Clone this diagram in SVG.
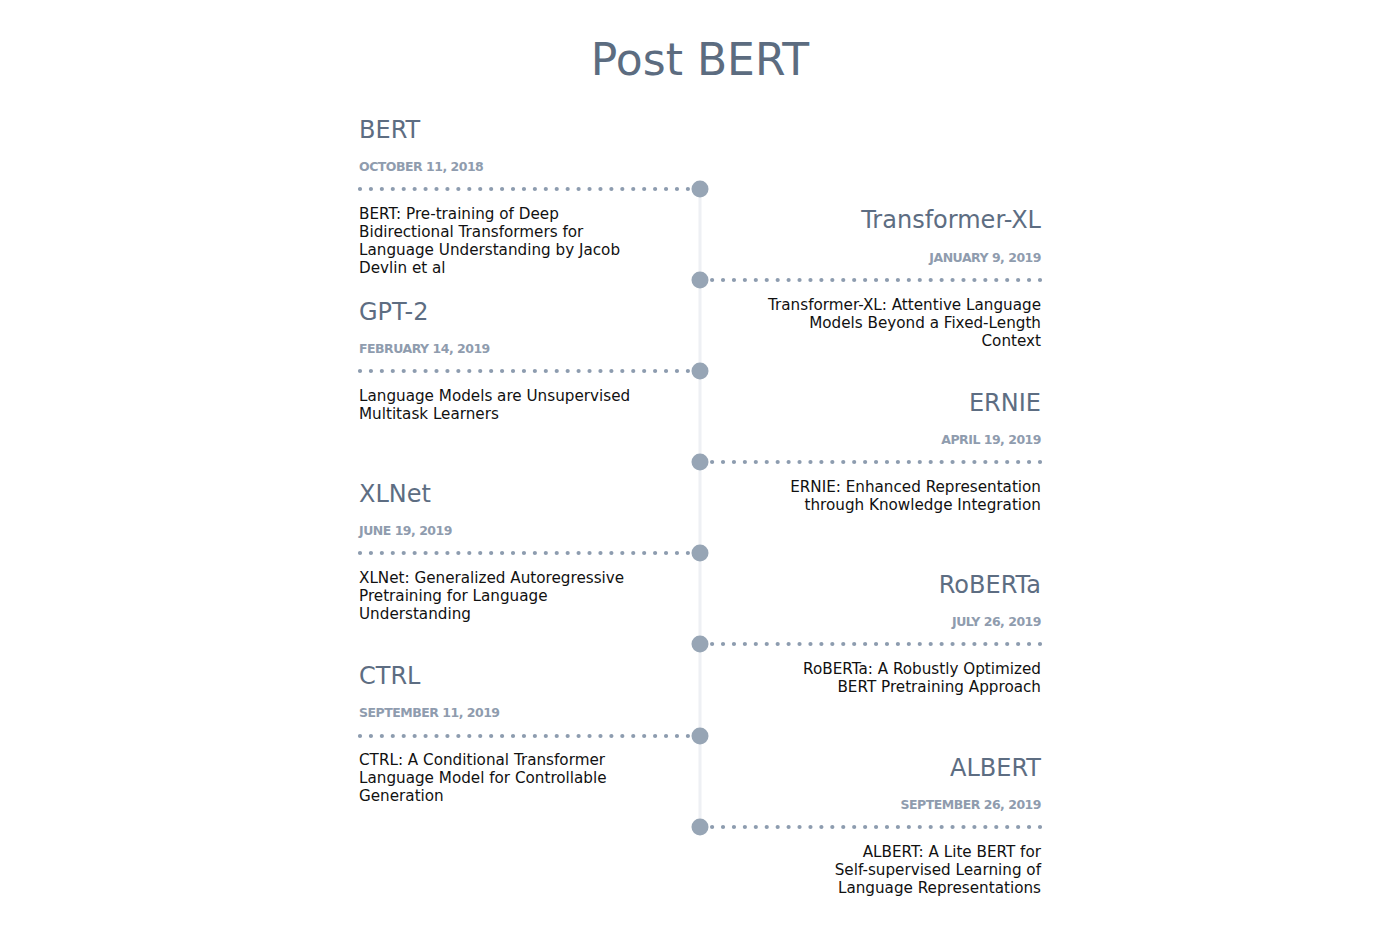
<svg xmlns="http://www.w3.org/2000/svg" width="1400" height="932" viewBox="0 0 1400 932">
<style>
.title{font-family:"DejaVu Sans","Liberation Sans",sans-serif;font-size:44px;fill:#5c6c80}
.head{font-family:"DejaVu Sans","Liberation Sans",sans-serif;font-size:24px;fill:#5d6d82}
.date{font-family:"DejaVu Sans","Liberation Sans",sans-serif;font-size:12.5px;font-weight:bold;letter-spacing:-0.5px;fill:#8f9cae}
.desc{font-family:"DejaVu Sans","Liberation Sans",sans-serif;font-size:15.2px;fill:#111}
.r{text-anchor:end}
.dots{stroke:#8d9caf;stroke-width:4.2;stroke-linecap:round;stroke-dasharray:0 10.93;fill:none}
.node{fill:#97a5b5}
</style>
<rect width="1400" height="932" fill="#fff"/>
<text class="title" x="700" y="75" text-anchor="middle">Post BERT</text>
<g id="connectors">
<line x1="700" y1="189" x2="700" y2="827" stroke="#eef0f4" stroke-width="3"/>
<line class="dots" x1="360" y1="189" x2="688.2" y2="189"/>
<line class="dots" x1="1040" y1="280" x2="711.8" y2="280"/>
<line class="dots" x1="360" y1="371" x2="688.2" y2="371"/>
<line class="dots" x1="1040" y1="462" x2="711.8" y2="462"/>
<line class="dots" x1="360" y1="553" x2="688.2" y2="553"/>
<line class="dots" x1="1040" y1="644" x2="711.8" y2="644"/>
<line class="dots" x1="360" y1="736" x2="688.2" y2="736"/>
<line class="dots" x1="1040" y1="827" x2="711.8" y2="827"/>
</g>
<g id="bert">
<circle class="node" cx="700" cy="189" r="8.5"/>
<text class="head" x="359" y="138">BERT</text>
<text class="date" x="359" y="171">OCTOBER 11, 2018</text>
<text class="desc" x="359" y="219">BERT: Pre-training of Deep</text>
<text class="desc" x="359" y="237">Bidirectional Transformers for</text>
<text class="desc" x="359" y="255">Language Understanding by Jacob</text>
<text class="desc" x="359" y="273">Devlin et al</text>
</g>
<g id="transformer-xl">
<circle class="node" cx="700" cy="280" r="8.5"/>
<text class="head r" x="1041" y="228">Transformer-XL</text>
<text class="date r" x="1041" y="262">JANUARY 9, 2019</text>
<text class="desc r" x="1041" y="310">Transformer-XL: Attentive Language</text>
<text class="desc r" x="1041" y="328">Models Beyond a Fixed-Length</text>
<text class="desc r" x="1041" y="346">Context</text>
</g>
<g id="gpt-2">
<circle class="node" cx="700" cy="371" r="8.5"/>
<text class="head" x="359" y="320">GPT-2</text>
<text class="date" x="359" y="353">FEBRUARY 14, 2019</text>
<text class="desc" x="359" y="401">Language Models are Unsupervised</text>
<text class="desc" x="359" y="419">Multitask Learners</text>
</g>
<g id="ernie">
<circle class="node" cx="700" cy="462" r="8.5"/>
<text class="head r" x="1041" y="411">ERNIE</text>
<text class="date r" x="1041" y="444">APRIL 19, 2019</text>
<text class="desc r" x="1041" y="492">ERNIE: Enhanced Representation</text>
<text class="desc r" x="1041" y="510">through Knowledge Integration</text>
</g>
<g id="xlnet">
<circle class="node" cx="700" cy="553" r="8.5"/>
<text class="head" x="359" y="502">XLNet</text>
<text class="date" x="359" y="535">JUNE 19, 2019</text>
<text class="desc" x="359" y="583">XLNet: Generalized Autoregressive</text>
<text class="desc" x="359" y="601">Pretraining for Language</text>
<text class="desc" x="359" y="619">Understanding</text>
</g>
<g id="roberta">
<circle class="node" cx="700" cy="644" r="8.5"/>
<text class="head r" x="1041" y="593">RoBERTa</text>
<text class="date r" x="1041" y="626">JULY 26, 2019</text>
<text class="desc r" x="1041" y="674">RoBERTa: A Robustly Optimized</text>
<text class="desc r" x="1041" y="692">BERT Pretraining Approach</text>
</g>
<g id="ctrl">
<circle class="node" cx="700" cy="736" r="8.5"/>
<text class="head" x="359" y="684">CTRL</text>
<text class="date" x="359" y="717">SEPTEMBER 11, 2019</text>
<text class="desc" x="359" y="765">CTRL: A Conditional Transformer</text>
<text class="desc" x="359" y="783">Language Model for Controllable</text>
<text class="desc" x="359" y="801">Generation</text>
</g>
<g id="albert">
<circle class="node" cx="700" cy="827" r="8.5"/>
<text class="head r" x="1041" y="776">ALBERT</text>
<text class="date r" x="1041" y="809">SEPTEMBER 26, 2019</text>
<text class="desc r" x="1041" y="857">ALBERT: A Lite BERT for</text>
<text class="desc r" x="1041" y="875">Self-supervised Learning of</text>
<text class="desc r" x="1041" y="893">Language Representations</text>
</g>
</svg>
